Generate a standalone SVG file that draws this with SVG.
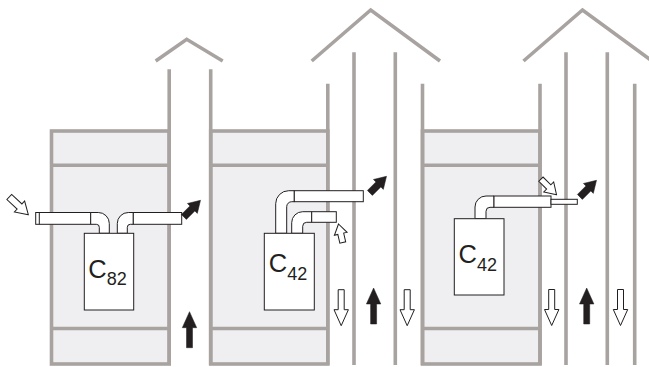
<svg xmlns="http://www.w3.org/2000/svg" width="649" height="367" viewBox="0 0 649 367">
<style>
.bld{fill:#efeef0;stroke:#a8a3a1;stroke-width:3.6}
.wall{stroke:#a8a3a1;stroke-width:3.6;fill:none}
.pipe{fill:#ffffff;stroke:#231f20;stroke-width:1}
.boiler{fill:#ffffff;stroke:#231f20;stroke-width:1}
.lbl{font-family:"Liberation Sans",Arial,sans-serif;font-size:25.5px;fill:#231f20}
.solid{fill:#231f20;stroke:#231f20;stroke-width:0.5}
.hollow{fill:#ffffff;stroke:#231f20;stroke-width:1}
</style>
<defs>
<path id="av" d="M0,0 L7.2,16 L3,16 L3,36 L-3,36 L-3,16 L-7.2,16 Z"/>
<path id="ad" d="M0,0 L7,11.5 L3.5,11.5 L3.5,23.5 L-3.5,23.5 L-3.5,11.5 L-7,11.5 Z"/>
<path id="ah1" d="M0,0 L7.5,12 L3.5,12 L3.5,26 L-3.5,26 L-3.5,12 L-7.5,12 Z"/>
<path id="ah3" d="M0,0 L7,11 L3,11 L3,22 L-3,22 L-3,11 L-7,11 Z"/>
<path id="ah2" d="M0,0 L6.5,10 L3,10 L3,19 L-3,19 L-3,10 L-6.5,10 Z"/>
</defs>

<g id="building-1">
<rect class="bld" x="51.5" y="131" width="117.7" height="233"/>
<line class="wall" x1="51.5" y1="165.3" x2="169.2" y2="165.3"/>
<line class="wall" x1="51.5" y1="328.5" x2="169.2" y2="328.5"/>
</g>
<g id="building-2">
<rect class="bld" x="210.7" y="131" width="117.1" height="233"/>
<line class="wall" x1="210.7" y1="165.3" x2="327.8" y2="165.3"/>
<line class="wall" x1="210.7" y1="328.5" x2="327.8" y2="328.5"/>
</g>
<g id="building-3">
<rect class="bld" x="422.5" y="131" width="117.5" height="233"/>
<line class="wall" x1="422.5" y1="165.3" x2="540" y2="165.3"/>
<line class="wall" x1="422.5" y1="328.5" x2="540" y2="328.5"/>
</g>

<g id="chimney-1">
<line class="wall" x1="169.2" y1="69.3" x2="169.2" y2="365"/>
<line class="wall" x1="210.7" y1="69.3" x2="210.7" y2="365"/>
<polyline class="wall" points="155.7,61 186.7,39.3 222.7,61"/>
</g>
<g id="chimney-2">
<line class="wall" x1="327.8" y1="83.7" x2="327.8" y2="365"/>
<line class="wall" x1="354" y1="52.3" x2="354" y2="365"/>
<line class="wall" x1="395.3" y1="52.3" x2="395.3" y2="365"/>
<line class="wall" x1="422.5" y1="83.7" x2="422.5" y2="365"/>
<polyline class="wall" points="311.7,61 370.7,10 440,61"/>
</g>
<g id="chimney-3">
<line class="wall" x1="540" y1="83.7" x2="540" y2="365"/>
<line class="wall" x1="566" y1="52.3" x2="566" y2="365"/>
<line class="wall" x1="607.3" y1="52.3" x2="607.3" y2="365"/>
<line class="wall" x1="634.7" y1="83.7" x2="634.7" y2="365"/>
<polyline class="wall" points="523.5,61 582.5,10 652,61"/>
</g>

<g id="boiler-1">
<rect class="pipe" x="35.7" y="212.5" width="55" height="11.8"/>
<line class="pipe" x1="39.3" y1="212.5" x2="39.3" y2="224.3"/>
<path class="pipe" d="M90.7,212.5 H98.3 A11,11 0 0 1 109.3,223.5 V233.3 H99.3 V227.3 A3,3 0 0 0 96.3,224.3 H90.7 Z"/>
<path class="pipe" d="M133.3,212.5 H128.3 A11,11 0 0 0 117.3,223.5 V233.3 H127.3 V227.3 A3,3 0 0 1 130.3,224.3 H133.3 Z"/>
<rect class="pipe" x="133.3" y="212.5" width="48.4" height="11.8"/>
<rect class="boiler" x="84.3" y="233.3" width="49.4" height="76.7"/>
<text class="lbl" x="88.3" y="277.5">C<tspan dy="7.5" font-size="18">82</tspan></text>
</g>

<g id="boiler-2">
<path class="pipe" d="M294.3,190.7 H288.7 A13,13 0 0 0 275.7,203.7 V233.3 H286.7 V206.7 A5,5 0 0 1 291.7,201.7 H294.3 Z"/>
<rect class="pipe" x="294.3" y="190.7" width="69" height="11"/>
<path class="pipe" d="M311.7,211.7 H302.7 A11,11 0 0 0 291.7,222.7 V233.3 H302.7 V226.3 A4,4 0 0 1 306.7,222.3 H311.7 Z"/>
<rect class="pipe" x="311.7" y="211.7" width="24.6" height="10.6"/>
<rect class="boiler" x="264.3" y="233.3" width="50" height="76.7"/>
<text class="lbl" x="268.8" y="271.5">C<tspan dy="8" font-size="18">42</tspan></text>
</g>

<g id="boiler-3">
<path class="pipe" d="M494,196 H486 A11,11 0 0 0 475,207 V218.7 H486 V211.3 A4,4 0 0 1 490,207.3 H494 Z"/>
<rect class="pipe" x="494" y="196" width="57" height="11.3"/>
<rect class="pipe" x="551" y="199.3" width="26.3" height="5"/>
<rect class="boiler" x="454.3" y="218.7" width="49.7" height="76.3"/>
<text class="lbl" x="458.6" y="263">C<tspan dy="8" font-size="18">42</tspan></text>
</g>

<g id="connectors">
<use href="#ah1" class="hollow" transform="translate(28.3,214.7) rotate(133)"/>
<use href="#ad" class="solid" transform="translate(200.5,200.3) rotate(45)"/>
<use href="#av" class="solid" transform="translate(189.5,311.7)"/>
<use href="#ad" class="solid" transform="translate(386.5,176.3) rotate(45)"/>
<use href="#ah2" class="hollow" transform="translate(338.5,224) rotate(-13)"/>
<use href="#av" class="hollow" transform="translate(341.2,325.7) rotate(180)"/>
<use href="#av" class="solid" transform="translate(373.6,288)"/>
<use href="#av" class="hollow" transform="translate(407.2,325.7) rotate(180)"/>
<use href="#ah3" class="hollow" transform="translate(556.5,194.7) rotate(135)"/>
<use href="#ad" class="solid" transform="translate(596.5,180.3) rotate(45)"/>
<use href="#av" class="hollow" transform="translate(551.7,325.5) rotate(180)"/>
<use href="#av" class="solid" transform="translate(586.7,288)"/>
<use href="#av" class="hollow" transform="translate(620.5,325.5) rotate(180)"/>
</g>
</svg>
